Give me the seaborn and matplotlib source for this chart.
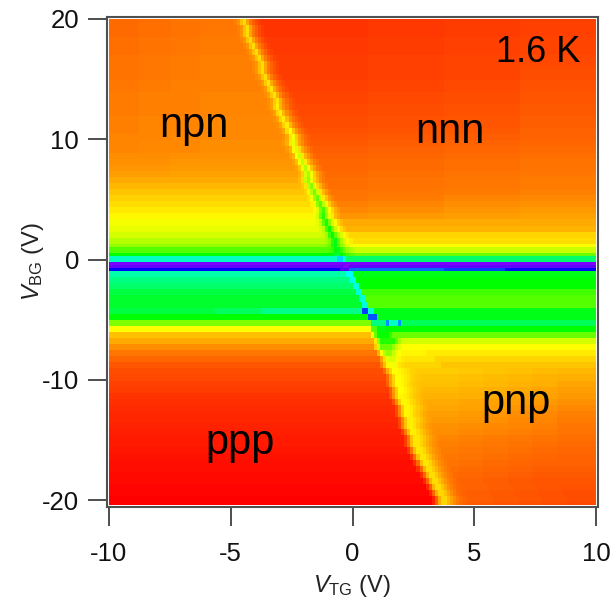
import numpy as np
import pandas as pd
import matplotlib
matplotlib.use("Agg")
import matplotlib.pyplot as plt
import seaborn as sns
from matplotlib.colors import LinearSegmentedColormap

# scan values as hue degrees, one string per row block, "columns:value"
n_cols = 160

top_runs = [
    "10:25 10:26 10:27 11:28 1:30 1:34 1:45 1:52 1:38 1:28 1:22 1:17 1:14 35:12 25:13 25:14 25:15",
    "10:25 10:26 10:27 12:28 1:30 1:34 1:45 1:52 1:38 1:28 1:22 1:17 1:14 34:12 25:13 25:14 25:15",
    "10:25 10:26 10:27 12:28 1:30 1:34 1:45 1:52 1:38 1:28 1:22 1:17 1:14 34:12 25:13 25:14 25:15",
    "10:26 10:27 10:28 13:29 1:31 1:35 1:45 1:52 1:38 1:29 1:23 1:18 1:15 33:13 25:14 25:15 25:16",
    "10:26 10:27 10:28 14:29 1:31 1:35 1:45 1:52 1:38 1:29 1:23 1:18 1:15 32:13 25:14 25:15 25:16",
    "10:26 10:27 10:28 15:29 1:31 1:35 1:45 1:52 1:38 1:29 1:23 1:18 1:15 31:13 25:14 25:15 25:16",
    "10:27 10:28 10:29 16:30 1:32 1:35 1:45 1:52 1:39 1:29 1:23 1:19 1:16 30:14 25:15 25:16 25:17",
    "10:27 10:28 10:29 17:30 1:32 1:35 1:45 1:52 1:39 1:29 1:23 1:19 1:16 29:14 25:15 25:16 25:17",
    "10:27 10:28 10:29 17:30 1:32 1:35 1:45 1:52 1:39 1:29 1:23 1:19 1:16 29:14 25:15 25:16 25:18",
    "10:27 10:28 10:29 18:30 1:32 1:35 1:45 1:52 1:39 1:29 1:23 1:19 1:16 28:14 25:15 25:16 25:18",
    "10:28 10:29 10:30 19:30 1:32 1:36 1:47 1:54 1:40 1:31 1:25 1:20 1:17 27:15 25:16 25:17 25:19",
    "10:28 10:29 10:30 20:30 1:32 1:36 1:47 1:54 1:40 1:31 1:25 1:20 1:17 26:15 25:16 25:17 25:19",
    "10:29 10:30 10:30 21:31 1:33 1:37 1:47 1:54 1:41 1:31 1:25 1:21 1:18 25:16 25:17 25:18 25:20",
    "10:29 10:30 10:30 22:31 1:33 1:37 1:47 1:54 1:41 1:31 1:25 1:21 1:18 24:16 25:17 25:18 25:20",
    "10:29 10:30 10:30 22:31 1:33 1:37 1:49 1:56 1:42 1:33 1:27 1:22 1:19 24:17 25:18 25:19 25:21",
    "10:29 10:30 10:30 23:31 1:33 1:37 1:49 1:56 1:42 1:33 1:27 1:22 1:19 23:17 25:18 25:19 25:21",
    "10:30 10:31 10:31 24:32 1:34 1:38 1:49 1:56 1:43 1:33 1:27 1:23 1:20 22:18 25:19 25:20 25:22",
    "10:30 10:31 10:31 25:32 1:34 1:38 1:49 1:56 1:43 1:33 1:27 1:23 1:20 21:18 25:19 25:20 25:22",
    "10:30 10:31 10:31 26:32 1:34 1:39 1:52 1:60 1:46 1:35 1:29 1:24 1:21 20:19 25:20 25:21 25:23",
    "10:31 10:31 10:32 27:32 1:34 1:40 1:53 1:62 1:47 1:37 1:30 1:25 1:22 19:20 25:21 25:22 25:23",
    "10:31 10:32 10:32 27:33 1:36 1:41 1:55 1:65 1:50 1:39 1:32 1:26 1:23 19:21 25:22 25:23 25:24",
    "10:31 10:32 10:32 28:33 1:36 1:42 1:58 1:68 1:52 1:40 1:33 1:28 1:24 18:22 25:23 25:24 25:25",
    "10:33 10:33 10:34 29:34 1:37 1:43 1:60 1:71 1:54 1:42 1:35 1:29 1:25 17:23 25:24 25:25 25:26",
    "10:34 10:34 10:35 30:35 1:38 1:45 1:62 1:74 1:56 1:44 1:36 1:30 1:27 16:24 25:25 25:26 25:27",
    "10:35 10:35 10:36 31:36 1:39 1:46 1:65 1:78 1:59 1:46 1:38 1:30 1:27 15:24 25:25 25:26 25:27",
    "10:37 10:37 10:38 32:38 1:42 1:49 1:69 1:82 1:62 1:48 1:39 1:32 1:28 14:25 25:26 25:27 25:28",
    "10:40 10:40 10:40 32:40 1:44 1:51 1:72 1:85 1:64 1:50 1:41 1:33 1:29 14:26 25:27 25:28 25:29",
    "10:43 10:43 10:43 33:43 1:47 1:54 1:75 1:88 1:66 1:51 1:42 1:33 1:29 13:26 25:27 25:28 25:29",
    "10:46 10:46 10:46 34:46 1:50 1:57 1:78 1:92 1:69 1:53 1:43 1:35 1:30 12:27 25:28 25:29 25:30",
    "10:49 10:49 10:49 35:49 1:53 1:61 1:82 1:96 1:72 1:55 1:45 1:36 1:31 11:28 25:29 25:31 25:32",
    "10:52 10:52 10:52 36:52 1:56 1:64 1:86 1:100 1:76 1:58 1:48 1:38 1:34 10:30 25:31 25:33 25:34",
    "10:55 10:55 10:55 37:55 1:59 1:67 1:90 1:105 1:79 1:61 1:50 1:41 1:36 9:32 25:33 25:35 25:36",
    "10:58 10:58 10:58 37:58 1:62 1:71 1:94 1:110 1:84 1:65 1:54 1:44 1:39 9:35 25:36 25:37 25:38",
]

band_repeat = [2, 2, 2, 2, 1, 2, 1, 2, 1, 1, 1, 2, 2, 2, 2, 2, 2, 2, 2, 2, 2, 2, 2, 2, 2, 2, 2]
band_runs = [
    "68:62 1:66 1:75 1:99 1:115 1:89 1:70 1:59 1:49 1:44 83:40",
    "69:65 1:69 1:78 1:102 1:118 1:91 1:72 1:61 1:51 1:46 82:42",
    "70:70 1:74 1:83 1:106 1:122 1:97 1:79 1:68 1:59 1:54 81:50",
    "71:78 1:82 1:90 1:110 1:124 1:99 1:81 1:70 1:61 1:56 80:52",
    "71:85 1:88 1:95 1:113 1:125 1:102 1:86 1:76 1:68 1:63 80:60",
    "72:100 1:102 1:107 1:120 1:128 1:108 1:94 1:86 1:79 1:75 79:72",
    "72:120 1:121 1:124 1:130 1:135 1:121 1:111 1:105 1:100 1:97 79:95",
    "75:165 2:190 1:170 82:145",
    "77:268 2:275 81:268",
    "77:264 2:270 81:262",
    "76:240 3:258 31:215 20:225 30:238",
    "78:160 2:178 80:125",
    "79:150 2:175 79:120",
    "80:145 2:172 78:120",
    "81:135 2:170 77:105",
    "82:130 2:170 76:100",
    "83:130 2:170 75:100",
    "35:135 15:142 33:152 2:225 2:170 73:125",
    "85:120 3:220 72:125",
    "86:90 5:150 1:205 3:165 1:205 64:140",
    "86:60 2:100 3:125 69:120",
    "86:45 1:62 1:95 4:118 1:108 67:95",
    "87:40 1:55 1:85 5:112 1:95 1:82 64:70",
    "87:33 1:48 1:72 4:95 1:85 1:74 1:66 63:60",
    "88:28 1:42 1:60 1:78 2:85 1:74 1:64 1:60 8:58 55:55",
    "89:24 1:38 1:52 1:66 2:70 1:62 1:58 1:55 10:54 52:50",
    "89:20 1:30 1:44 1:58 2:62 1:58 1:54 1:52 12:50 50:46",
]

bottom_repeat = [2] * 22 + [1]
bottom_runs = [
    "90:18 1:26 1:40 1:50 1:60 1:60 1:58 1:56 1:54 1:52 1:50 1:49 14:48 8:47 8:46 8:45 8:44 8:43",
    "91:17 1:25 1:39 1:50 1:60 1:60 1:58 1:55 1:53 1:50 1:48 1:47 13:46 8:45 8:44 8:43 8:42 8:41",
    "91:15 1:23 1:37 1:48 1:60 1:60 1:58 1:55 1:52 1:49 1:47 1:46 13:45 8:44 8:43 8:42 8:41 8:39",
    "92:14 1:22 1:36 1:48 1:60 1:60 1:57 1:54 1:51 1:48 1:46 1:44 12:43 8:42 8:41 8:40 8:39 8:37",
    "92:12 1:20 1:34 1:48 1:58 1:58 1:56 1:53 1:50 1:47 1:45 1:43 12:42 8:41 8:40 8:39 8:38 8:36",
    "93:11 1:19 1:33 1:48 1:58 1:58 1:56 1:52 1:49 1:46 1:43 1:41 11:40 8:39 8:38 8:37 8:36 8:34",
    "94:10 1:18 1:32 1:48 1:58 1:58 1:55 1:51 1:48 1:45 1:42 1:40 10:39 8:38 8:37 8:35 8:34 8:32",
    "94:9 1:17 1:31 1:46 1:58 1:58 1:55 1:50 1:47 1:43 1:40 1:38 10:37 8:36 8:35 8:33 8:32 8:30",
    "95:9 1:17 1:31 1:46 1:56 1:56 1:53 1:49 1:45 1:42 1:39 1:37 9:36 8:35 8:34 8:32 8:31 8:29",
    "95:8 1:16 1:30 1:45 1:56 1:56 1:53 1:48 1:44 1:40 1:37 1:35 9:34 8:33 8:32 8:31 8:30 8:28",
    "96:7 1:15 1:29 1:45 1:56 1:56 1:52 1:47 1:43 1:39 1:36 1:34 8:33 8:32 8:31 8:30 8:29 8:27",
    "97:6 1:14 1:28 1:45 1:54 1:54 1:50 1:46 1:42 1:38 1:35 1:33 7:31 8:30 8:29 8:28 8:27 8:26",
    "97:6 1:14 1:28 1:44 1:54 1:54 1:50 1:45 1:41 1:37 1:34 1:32 7:30 8:29 8:28 8:27 8:26 8:25",
    "98:5 1:13 1:27 1:44 1:54 1:54 1:50 1:44 1:40 1:36 1:33 1:31 6:29 8:28 8:27 8:26 8:25 8:24",
    "99:4 1:12 1:26 1:44 1:54 1:54 1:49 1:44 1:39 1:35 1:32 1:30 5:28 8:27 8:26 8:25 8:24 8:23",
    "100:3 1:11 1:25 1:44 1:54 1:54 1:49 1:43 1:38 1:34 1:31 1:29 4:27 8:26 8:25 8:24 8:23",
    "101:3 1:11 1:25 1:42 1:52 1:52 1:47 1:42 1:37 1:33 1:30 1:28 3:26 8:25 8:24 8:23 8:22",
    "102:2 1:10 1:24 1:42 1:52 1:52 1:47 1:41 1:36 1:32 1:29 1:27 2:25 8:24 8:23 8:22 8:21",
    "103:2 1:10 1:24 1:42 1:52 1:52 1:46 1:40 1:35 1:31 1:28 1:26 1:24 8:23 8:22 8:21 8:20",
    "104:1 1:9 1:23 1:42 1:52 1:52 1:46 1:40 1:34 1:30 1:27 1:25 1:24 8:23 8:22 8:21 8:20 8:19",
    "105:1 1:9 1:23 1:40 1:50 1:50 1:45 1:39 1:33 1:29 1:26 1:24 1:23 8:22 8:21 8:20 8:19 8:18",
    "106:0 1:8 1:22 1:40 1:50 1:50 1:44 1:38 1:33 1:29 1:26 1:24 1:23 8:22 8:21 8:20 8:19 8:18",
    "106:0 1:8 1:22 1:40 1:50 1:50 1:44 1:38 1:32 1:28 1:25 1:23 1:22 8:21 8:20 8:19 8:18 8:17",
]

x_ticks = [-10, -5, 0, 5, 10]
y_ticks = [20, 10, 0, -10, -20]
region_labels = ["npn", "nnn", "ppp", "pnp"]
region_vtg = [-6.5, 4.0, -4.6, 6.7]
region_vbg = [11.1, 10.6, -15.2, -11.9]


def expand(runs):
    cells = []
    for part in runs.split():
        n, hue = part.split(":")
        cells += [int(hue)] * int(n)
    cells += [cells[-1]] * n_cols
    return cells[:n_cols]


rows = []
for runs in top_runs:
    rows += [expand(runs)] * 2
for rep, runs in zip(band_repeat, band_runs):
    rows += [expand(runs)] * rep
for rep, runs in zip(bottom_repeat, bottom_runs):
    rows += [expand(runs)] * rep
scan = pd.DataFrame(rows)
n_rows = len(scan)

sns.set_theme(style="white")
plt.rcParams["font.family"] = ["Liberation Sans", "DejaVu Sans"]
plt.rcParams["mathtext.fontset"] = "custom"
plt.rcParams["mathtext.rm"] = "Liberation Sans"
plt.rcParams["mathtext.it"] = "Liberation Sans:italic"

rainbow = LinearSegmentedColormap.from_list("igor_rainbow", [
    (0, "#ff0000"), (60 / 270, "#ffff00"), (120 / 270, "#00ff00"),
    (180 / 270, "#00ffff"), (240 / 270, "#0000ff"), (1, "#8000ff"),
], N=540)

fig = plt.figure(figsize=(6.12, 6.05), dpi=100)
ax = fig.add_axes([107 / 612, 1 - 507 / 605, 491 / 612, 490 / 605])
sns.heatmap(scan, cmap=rainbow, vmin=0, vmax=270, cbar=False,
            xticklabels=False, yticklabels=False, ax=ax)
ax.set_xlim(-0.6, n_cols + 0.6)
ax.set_ylim(n_rows + 0.6, -0.6)


def x_pos(v):
    return (np.asarray(v) + 10) / 20 * n_cols


def y_pos(v):
    return (20 - np.asarray(v)) / 40.4 * n_rows


ax.set_xticks(x_pos(x_ticks))
ax.set_xticklabels([str(t) for t in x_ticks], rotation=0)
ax.set_yticks(y_pos(y_ticks))
ax.set_yticklabels([str(t) for t in y_ticks], rotation=0)
ax.tick_params(axis="both", length=14, width=1.3, color="#404040",
               labelsize=18.5, labelcolor="#111111", bottom=True, left=True)
ax.tick_params(axis="x", pad=11)
ax.tick_params(axis="y", pad=6)

for spine in ax.spines.values():
    spine.set_visible(True)
    spine.set_color("#505050")
    spine.set_linewidth(1.5)

ax.set_xlabel(r"$\mathit{V}_{\mathrm{TG}}$ (V)", fontsize=17, labelpad=5, color="#222222")
ax.set_ylabel(r"$\mathit{V}_{\mathrm{BG}}$ (V)", fontsize=17, labelpad=-3, color="#222222")

for label, vt, vb in zip(region_labels, region_vtg, region_vbg):
    ax.text(x_pos(vt), y_pos(vb), label, fontsize=30, color="black",
            ha="center", va="center")
ax.text(x_pos(7.6), y_pos(17.2), "1.6 K", fontsize=26, color="black",
        ha="center", va="center")

fig.savefig("out.png", dpi=100)
